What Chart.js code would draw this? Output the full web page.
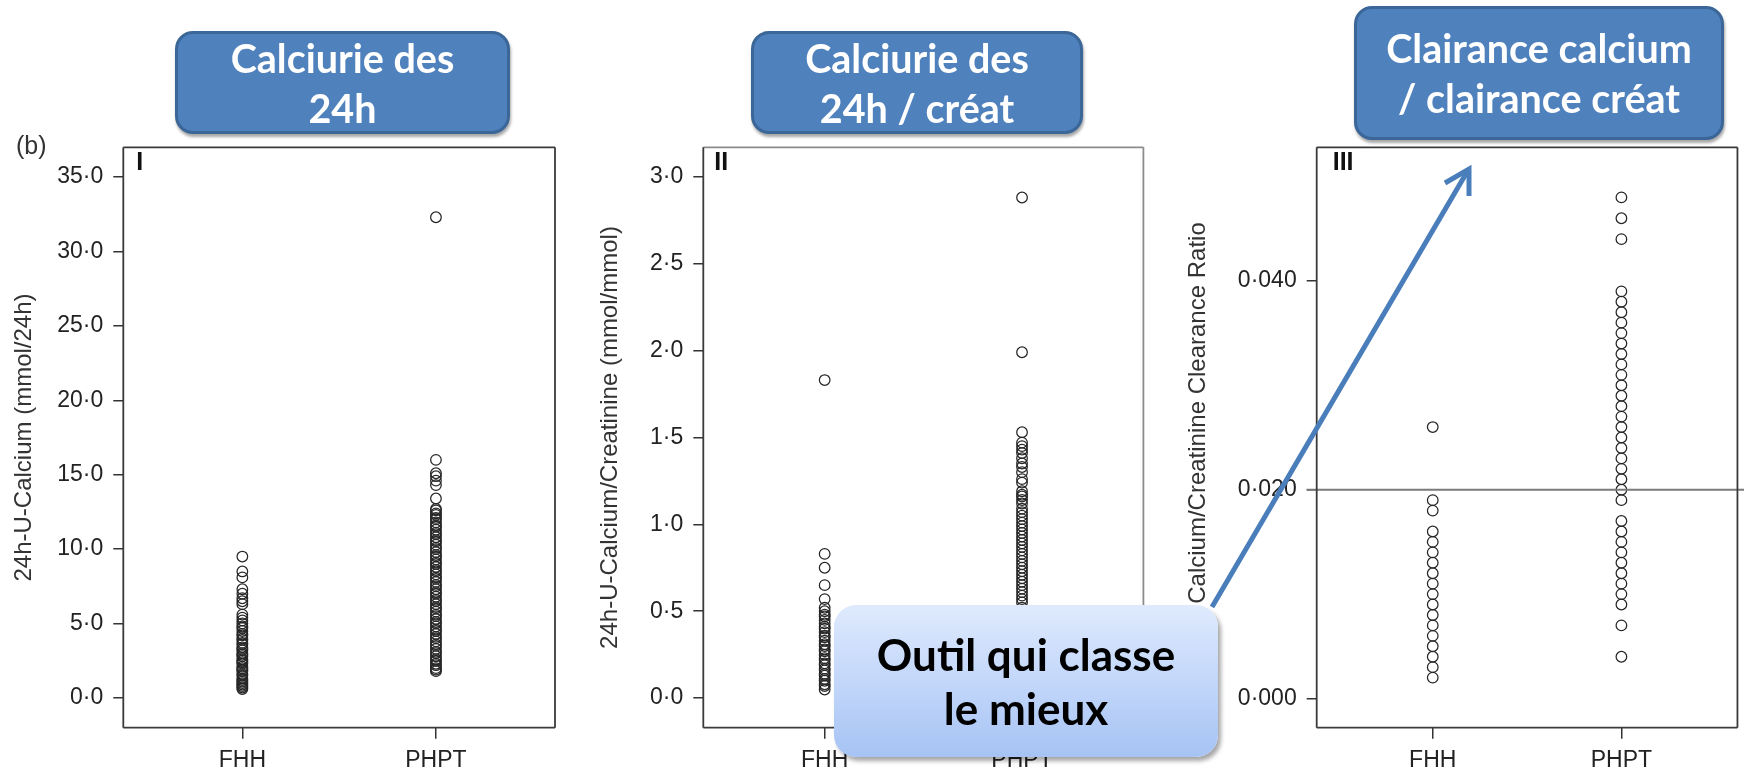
<!DOCTYPE html>
<html>
<head>
<meta charset="utf-8">
<script src="https://cdn.jsdelivr.net/npm/chart.js@4.4.0/dist/chart.umd.min.js"></script>
<style>
  html, body { margin: 0; padding: 0; background: #fff; }
  #page { position: relative; width: 1744px; height: 773px; overflow: hidden; background: #fff; }
  #page canvas { position: absolute; left: 0; top: 0; }
  .tag {
    position: absolute; box-sizing: border-box;
    background: #4f81bd; border: 3px solid #3b6698; border-radius: 18px;
    box-shadow: 1px 3px 3px rgba(0, 0, 0, 0.35);
    color: #fff; font-family: Lato, "Open Sans", sans-serif; font-weight: bold;
    font-size: 39.5px; line-height: 50px; text-align: center;
    display: flex; flex-direction: column; justify-content: center;
  }
  .note {
    position: absolute; box-sizing: border-box;
    left: 834px; top: 605px; width: 384px; height: 152px;
    border-radius: 22px;
    background: linear-gradient(to bottom, #dfeafd 0%, #c3d7fa 50%, #a6c3f4 100%);
    box-shadow: 3px 4px 4px rgba(0, 0, 0, 0.35);
    color: #000; font-family: Lato, "Open Sans", sans-serif; font-weight: bold;
    font-size: 44px; line-height: 54px; text-align: center;
    display: flex; flex-direction: column; justify-content: center;
  }
  .figletter {
    position: absolute; left: 16px; top: 131px;
    font-family: "Liberation Sans", Arial, sans-serif; font-size: 25px; color: #333;
  }
  #arrow { position: absolute; left: 0; top: 0; }
</style>
</head>
<body>
<div id="page">
  <canvas id="panel1" width="1744" height="773"></canvas>
  <canvas id="panel2" width="1744" height="773"></canvas>
  <canvas id="panel3" width="1744" height="773"></canvas>

  <div class="figletter">(b)</div>

  <svg id="arrow" width="1744" height="773">
    <line x1="1212" y1="607" x2="1467" y2="172" stroke="#4a7ebb" stroke-width="5" />
    <polyline points="1445,183 1469,169 1469,196" fill="none" stroke="#4a7ebb" stroke-width="5"
              stroke-linejoin="miter" stroke-linecap="butt" />
  </svg>

  <div class="tag" style="left:175px; top:31px; width:335px; height:103px;">
    <div>Calciurie des</div><div>24h</div>
  </div>
  <div class="tag" style="left:751px; top:31px; width:332px; height:103px;">
    <div>Calciurie des</div><div>24h / créat</div>
  </div>
  <div class="tag" style="left:1354px; top:6px; width:370px; height:134px;">
    <div>Clairance calcium</div><div>/ clairance créat</div>
  </div>

  <div class="note"><div>Outil qui classe</div><div>le mieux</div></div>
</div>

<script>
const groups = ['FHH', 'PHPT'];

// I : calciurie des 24h (mmol/24h)
const calciumFHH = [9.5, 8.5, 8.1, 7.3, 7.0, 6.7, 6.5, 6.3, 5.6, 5.4, 5.2, 5.0, 4.8, 4.7, 4.5,
  4.3, 4.2, 4.0, 3.9, 3.7, 3.6, 3.4, 3.3, 3.2, 3.0, 2.9, 2.8, 2.6, 2.5, 2.4, 2.3, 2.1, 2.0,
  1.9, 1.8, 1.6, 1.5, 1.3, 1.2, 1.1, 1.0, 0.9, 0.8, 0.7, 0.6];
const calciumPHPT = [32.3, 16.0, 15.1, 14.9, 14.6, 14.3, 13.4, 12.7, 12.6, 12.4, 12.3, 12.1,
  12.0, 11.8, 11.6, 11.5, 11.3, 11.1, 11.0, 10.8, 10.6, 10.5, 10.3, 10.1, 10.0, 9.8, 9.6, 9.5,
  9.3, 9.1, 9.0, 8.8, 8.6, 8.5, 8.3, 8.1, 8.0, 7.8, 7.6, 7.5, 7.3, 7.1, 7.0, 6.8, 6.6, 6.5,
  6.3, 6.1, 6.0, 5.8, 5.6, 5.5, 5.3, 5.1, 5.0, 4.8, 4.6, 4.5, 4.3, 4.1, 4.0, 3.8, 3.6, 3.5,
  3.3, 3.1, 3.0, 2.8, 2.6, 2.5, 2.3, 2.2, 2.0, 1.9, 1.8];
const calciumTicks = [0, 5, 10, 15, 20, 25, 30, 35];

// II : calcium / créatinine urinaire (mmol/mmol)
const ratioFHH = [1.83, 0.83, 0.75, 0.65, 0.57, 0.52, 0.50, 0.48, 0.47, 0.45, 0.43, 0.41,
  0.40, 0.38, 0.36, 0.35, 0.33, 0.31, 0.30, 0.28, 0.27, 0.25, 0.23, 0.22, 0.20, 0.19, 0.17,
  0.16, 0.14, 0.13, 0.11, 0.10, 0.08, 0.07, 0.05];
const ratioPHPT = [2.88, 1.99, 1.53, 1.47, 1.45, 1.43, 1.41, 1.38, 1.35, 1.33, 1.30, 1.26,
  1.24, 1.19, 1.17, 1.16, 1.14, 1.12, 1.09, 1.07, 1.05, 1.03, 1.01, 0.99, 0.97, 0.95, 0.93,
  0.91, 0.89, 0.87, 0.85, 0.83, 0.81, 0.79, 0.77, 0.75, 0.73, 0.71, 0.69, 0.67, 0.65, 0.63,
  0.61, 0.59, 0.57, 0.55, 0.52, 0.48, 0.44, 0.40, 0.36, 0.31, 0.27, 0.23, 0.19];
const ratioTicks = [0, 0.5, 1, 1.5, 2, 2.5, 3];

// III : clairance calcium / clairance créatinine
const clearanceFHH = [0.026, 0.019, 0.018, 0.016, 0.015, 0.014, 0.013, 0.012, 0.011, 0.010,
  0.009, 0.008, 0.007, 0.006, 0.005, 0.004, 0.003, 0.002];
const clearancePHPT = [0.048, 0.046, 0.044, 0.039, 0.038, 0.037, 0.036, 0.035, 0.034, 0.033,
  0.032, 0.031, 0.030, 0.029, 0.028, 0.027, 0.026, 0.025, 0.024, 0.023, 0.022, 0.021, 0.020,
  0.019, 0.017, 0.016, 0.015, 0.014, 0.013, 0.012, 0.011, 0.010, 0.009, 0.007, 0.004];
const clearanceTicks = [0, 0.02, 0.04];
const clearanceCutoff = 0.02;

const FONT = '"Liberation Sans", Arial, sans-serif';

// cadre du panneau, numéro romain, ligne de seuil et titre décalé éventuels
const panelFrame = {
  id: 'panelFrame',
  afterDatasetsDraw(chart, args, opts) {
    const {ctx, chartArea: a, scales} = chart;
    ctx.save();
    if (opts.cutoff !== undefined) {
      const y = scales.y.getPixelForValue(opts.cutoff);
      ctx.strokeStyle = '#7a7a7a';
      ctx.lineWidth = 2;
      ctx.beginPath();
      ctx.moveTo(a.left - 10, y);
      ctx.lineTo(chart.width, y);
      ctx.stroke();
    }
    const edges = [
      [a.left, a.top, a.right, a.top],
      [a.right, a.top, a.right, a.bottom],
      [a.right, a.bottom, a.left, a.bottom],
      [a.left, a.bottom, a.left, a.top]
    ];
    edges.forEach((e, i) => {
      ctx.strokeStyle = opts.edgeColors[i];
      ctx.lineWidth = 1.8;
      ctx.beginPath();
      ctx.moveTo(e[0], e[1]);
      ctx.lineTo(e[2], e[3]);
      ctx.stroke();
    });
    ctx.fillStyle = '#111';
    ctx.font = 'bold 25px ' + FONT;
    ctx.textBaseline = 'top';
    ctx.fillText(opts.roman, a.left + opts.romanX, a.top + 3);

    if (opts.sideTitle) {
      const t = opts.sideTitle;
      ctx.translate(t.x, t.y);
      ctx.rotate(-Math.PI / 2);
      ctx.fillStyle = '#333';
      ctx.font = '24px ' + FONT;
      ctx.textAlign = 'center';
      ctx.textBaseline = 'middle';
      ctx.fillText(t.text, 0, 0);
    }
    ctx.restore();
  }
};

function toPoints(values, x) {
  return values.map(v => ({x: x, y: v}));
}

function makePanel(id, p) {
  const dark = '#3a3a3a';
  return new Chart(document.getElementById(id), {
    type: 'scatter',
    data: {
      datasets: [
        {label: groups[0], data: toPoints(p.fhh, 1)},
        {label: groups[1], data: toPoints(p.phpt, 2)}
      ]
    },
    options: {
      responsive: false,
      animation: false,
      events: [],
      layout: {padding: {left: p.padLeft, right: p.padRight, top: 147.3, bottom: 0}},
      elements: {
        point: {
          pointStyle: 'circle', radius: 5.3, borderWidth: 1.25,
          borderColor: '#262626', backgroundColor: 'rgba(0,0,0,0)'
        }
      },
      plugins: {
        legend: {display: false},
        tooltip: {enabled: false},
        panelFrame: {
          roman: p.roman, romanX: p.romanX, cutoff: p.cutoff, sideTitle: p.sideTitle,
          edgeColors: p.edgeColors || [dark, dark, dark, dark]
        }
      },
      scales: {
        x: {
          type: 'linear', position: 'bottom', min: 0.385, max: 2.615,
          afterBuildTicks: s => { s.ticks = [1, 2].map(v => ({value: v})); },
          afterFit: s => { s.height = 45.3; },
          ticks: {
            callback: (v, i) => groups[i],
            font: {family: FONT, size: 23}, color: '#222',
            padding: 8, maxRotation: 0, autoSkip: false
          },
          grid: {drawOnChartArea: false, drawTicks: true, tickLength: 11, color: '#333', lineWidth: 1.5},
          border: {display: false}
        },
        y: {
          type: 'linear', position: 'left', min: p.yMin, max: p.yMax,
          afterBuildTicks: s => { s.ticks = p.ticks.map(v => ({value: v})); },
          afterFit: s => { s.width = p.yWidth; },
          ticks: {
            callback: v => v.toFixed(p.decimals).replace('.', '·'),
            font: {family: FONT, size: 23}, color: '#222', padding: 10
          },
          grid: {drawOnChartArea: false, drawTicks: true, tickLength: 10, color: '#333', lineWidth: 1.5},
          border: {display: false},
          title: {
            display: !!p.title, text: p.title || '', color: '#333',
            font: {family: FONT, size: 24}, padding: {top: 0, bottom: 0}
          }
        }
      }
    },
    plugins: [panelFrame]
  });
}

makePanel('panel1', {
  fhh: calciumFHH, phpt: calciumPHPT, ticks: calciumTicks, decimals: 1,
  yMin: -2, yMax: 37, title: '24h-U-Calcium (mmol/24h)',
  padLeft: 9.6, yWidth: 113.7, padRight: 1189, roman: 'I', romanX: 13
});

makePanel('panel2', {
  fhh: ratioFHH, phpt: ratioPHPT, ticks: ratioTicks, decimals: 1,
  yMin: -0.17, yMax: 3.169, title: '24h-U-Calcium/Creatinine (mmol/mmol)',
  padLeft: 595.6, yWidth: 107.7, padRight: 600.6, roman: 'II', romanX: 11,
  edgeColors: ['#8c8c8c', '#8c8c8c', '#3a3a3a', '#3a3a3a']
});

// le titre de l'axe III est placé plus haut que le centre du cadre
makePanel('panel3', {
  fhh: clearanceFHH, phpt: clearancePHPT, ticks: clearanceTicks, decimals: 3,
  yMin: -0.0028, yMax: 0.0528,
  sideTitle: {text: 'Calcium/Creatinine Clearance Ratio', x: 1198, y: 413},
  padLeft: 1183.6, yWidth: 133.1, padRight: 3, roman: 'III', romanX: 16,
  cutoff: clearanceCutoff
});
</script>
</body>
</html>
